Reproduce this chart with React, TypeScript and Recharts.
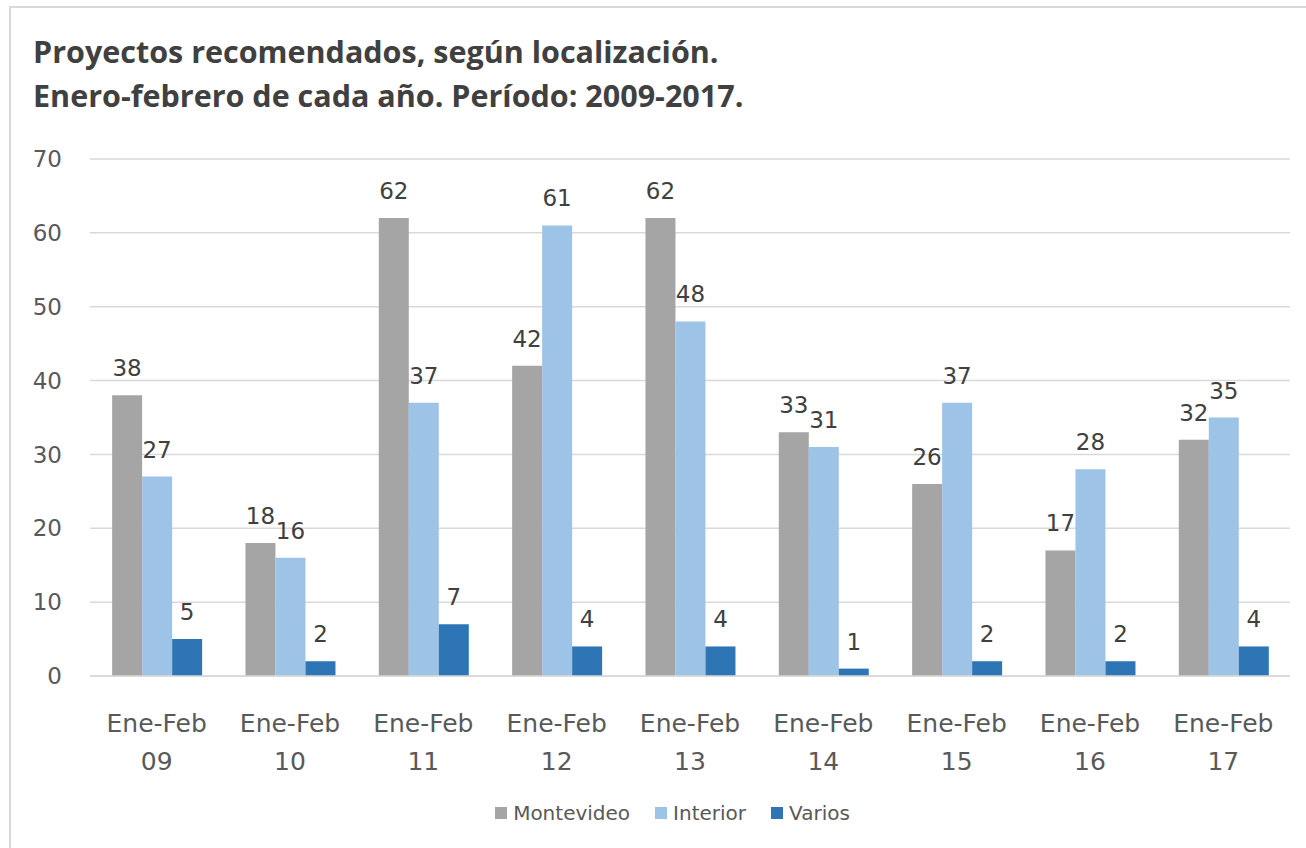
import React from "react";
import { BarChart, Bar, XAxis, YAxis, CartesianGrid, Legend, LabelList } from "recharts";

const periods = ["09", "10", "11", "12", "13", "14", "15", "16", "17"];
const montevideo = [38, 18, 62, 42, 62, 33, 26, 17, 32];
const interior = [27, 16, 37, 61, 48, 31, 37, 28, 35];
const varios = [5, 2, 7, 4, 4, 1, 2, 2, 4];
const yTicks = [0, 10, 20, 30, 40, 50, 60, 70];

const series = [
  { key: "Montevideo", color: "#a5a5a5" },
  { key: "Interior", color: "#9dc3e6" },
  { key: "Varios", color: "#2e75b6" },
];

const data = periods.map((p, i) => ({
  name: p,
  Montevideo: montevideo[i],
  Interior: interior[i],
  Varios: varios[i],
}));

const FONT = "'DejaVu Sans', 'Open Sans', sans-serif";

function PeriodTick({ x, y, payload }: any) {
  return (
    <text x={x} y={y} textAnchor="middle" fill="#595959" fontFamily={FONT} fontSize={25}>
      <tspan x={x} dy={48}>Ene-Feb</tspan>
      <tspan x={x} dy={38}>{payload.value}</tspan>
    </text>
  );
}

function LegendBox() {
  return (
    <div style={{ display: "flex", justifyContent: "center", paddingTop: 6, height: 52, boxSizing: "border-box", paddingLeft: 80 }}>
      {series.map((s) => (
        <div key={s.key} style={{ display: "flex", alignItems: "center", marginRight: 25, height: 22 }}>
          <span style={{ width: 12, height: 12, background: s.color, marginRight: 6, display: "inline-block" }} />
          <span style={{ fontFamily: FONT, fontSize: 20, color: "#595959" }}>{s.key}</span>
        </div>
      ))}
    </div>
  );
}

export default function App() {
  return (
    <div style={{ position: "absolute", left: 0, top: 0, width: 1306, height: 848, background: "#fff", overflow: "hidden" }}>
      <div style={{ position: "absolute", left: 9, top: 6, width: 1310, height: 860, border: "2px solid #d9d9d9" }} />
      <div style={{ position: "absolute", left: 33, top: 29, fontFamily: "'Open Sans', sans-serif", fontWeight: 700, fontSize: 30.5, lineHeight: "44px", color: "#404040" }}>
        <div>Proyectos recomendados, según localización.</div>
        <div>Enero-febrero de cada año. Período: 2009-2017.</div>
      </div>
      <div style={{ position: "absolute", left: 0, top: 0 }}>
        <BarChart width={1306} height={848} data={data} margin={{ top: 159, right: 16, left: 0, bottom: 0 }} barCategoryGap="16.6%" barGap={0}>
          <CartesianGrid vertical={false} stroke="#d9d9d9" strokeWidth={1.5} />
          <XAxis dataKey="name" height={120} tick={<PeriodTick />} tickLine={false} axisLine={{ stroke: "#d9d9d9", strokeWidth: 1.5 }} interval={0} />
          <YAxis width={90} domain={[0, 70]} ticks={yTicks} tickLine={false} axisLine={false} tickSize={0} tickMargin={28} tick={{ fill: "#595959", fontFamily: FONT, fontSize: 23 }} />
          <Legend verticalAlign="bottom" content={<LegendBox />} />
          {series.map((s) => (
            <Bar key={s.key} dataKey={s.key} fill={s.color} isAnimationActive={false}>
              <LabelList dataKey={s.key} position="top" offset={19} fill="#404040" fontFamily={FONT} fontSize={23} />
            </Bar>
          ))}
        </BarChart>
      </div>
    </div>
  );
}
